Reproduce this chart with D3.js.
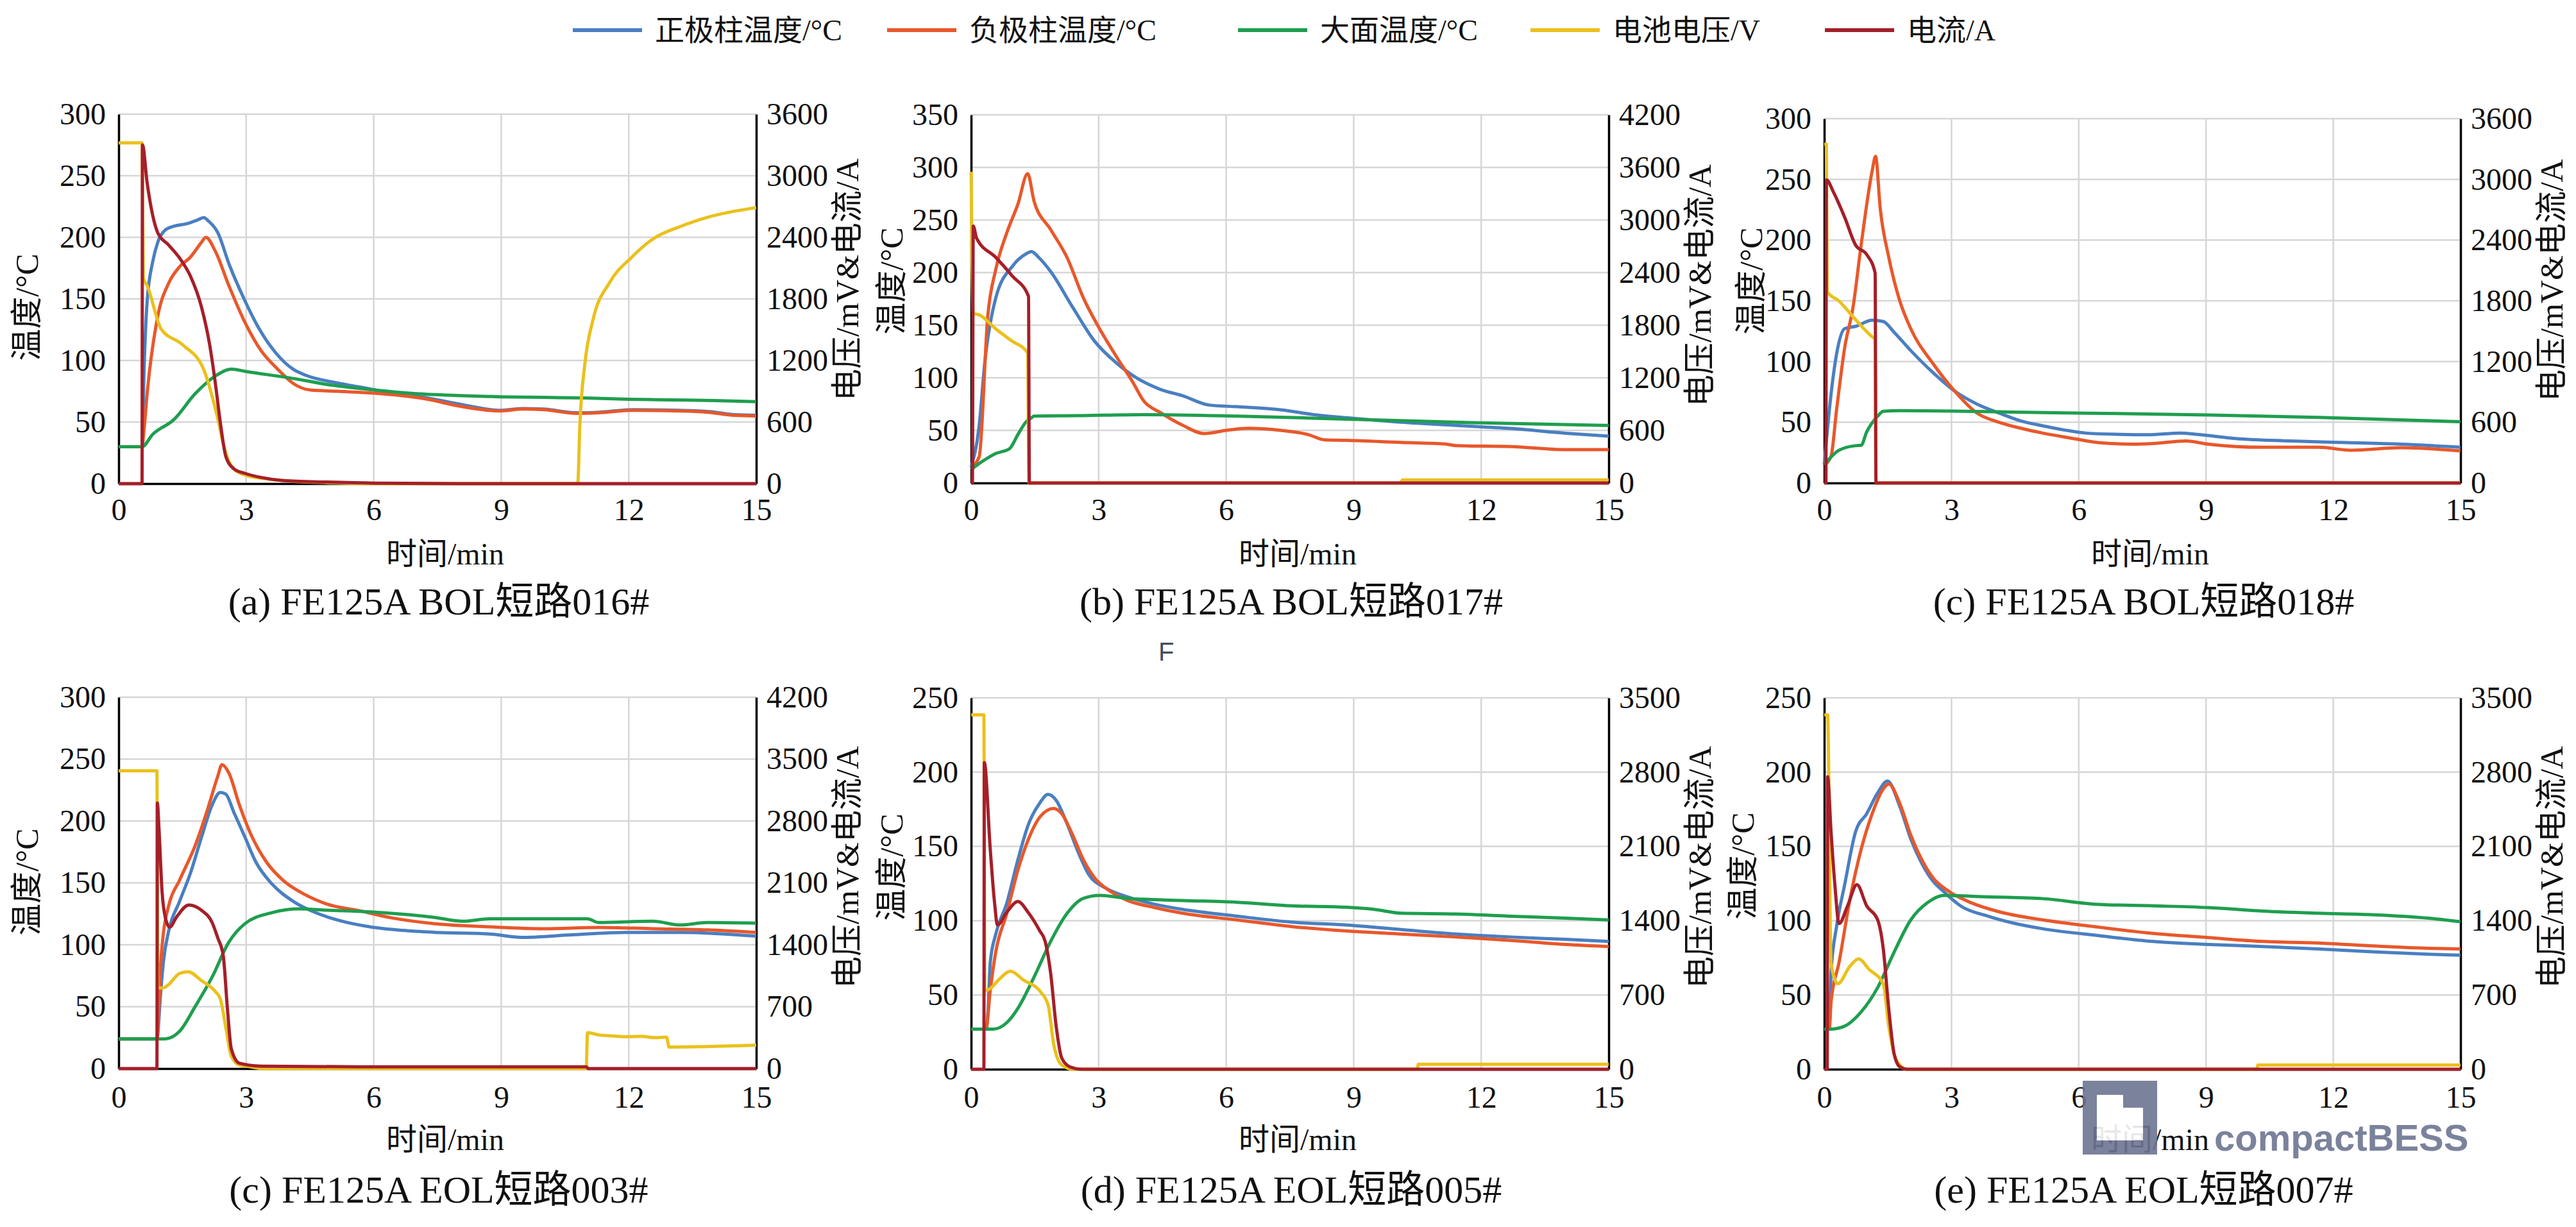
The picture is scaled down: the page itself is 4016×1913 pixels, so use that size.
<!DOCTYPE html>
<html><head><meta charset="utf-8">
<script src="https://cdn.jsdelivr.net/npm/d3@7"></script>
<style>body{margin:0;background:#fff}</style>
</head><body><svg id="c" width="4016" height="1913"></svg>
<script>
// ---------- DATA ----------
const seriesNames = ["正极柱温度/°C","负极柱温度/°C","大面温度/°C","电池电压/V","电流/A"];
const captions = ["(a) FE125A BOL短路016#","(b) FE125A BOL短路017#","(c) FE125A BOL短路018#",
                  "(c) FE125A EOL短路003#","(d) FE125A EOL短路005#","(e) FE125A EOL短路007#"];
const xTicks = [0,3,6,9,12,15];
const leftTicks300 = [0,50,100,150,200,250,300];
const leftTicks350 = [0,50,100,150,200,250,300,350];
const leftTicks250 = [0,50,100,150,200,250];
const rightTicks3600 = [0,600,1200,1800,2400,3000,3600];
const rightTicks4200a = [0,600,1200,1800,2400,3000,3600,4200];
const rightTicks4200b = [0,700,1400,2100,2800,3500,4200];
const rightTicks3500 = [0,700,1400,2100,2800,3500];

// (a) BOL 016#
const a_pos = [[0,30],[0.55,30],[0.6,95],[0.67,148],[0.8,180],[0.92,196],[1.1,206],[1.3,209],[1.6,211],[1.85,214],[2.0,216],[2.12,213],[2.33,204],[2.6,178],[2.95,150],[3.3,126],[3.7,106],[4.1,93],[4.4,88],[5.1,82],[5.9,77],[6.2,75],[7.2,70],[8.1,64],[9.0,59.5],[9.5,61],[10,60.5],[10.8,57.5],[11.3,58],[12.1,60],[13.2,59.5],[13.9,58.5],[14.5,56],[15,55.5]];
const a_neg = [[0,30],[0.55,30],[0.6,45],[0.67,73],[0.92,136],[1.18,163],[1.43,176],[1.69,184],[1.95,196],[2.05,200],[2.27,189],[2.59,161],[2.97,131],[3.35,108],[3.74,93],[4.12,81],[4.51,76],[5.15,75],[6.17,73],[7.19,69],[8.09,62.5],[8.98,59],[9.5,60.5],[10.01,60],[10.78,57],[11.29,57.5],[12.06,59.5],[13.21,59],[13.85,58],[14.49,55.5],[15,55]];
const a_face = [[0,30],[0.55,30],[0.8,40],[1.3,52],[1.8,73],[2.3,88],[2.65,93],[3.0,91],[4.0,86],[5.0,80],[6.0,76],[7.0,73],[8.0,71.5],[9.0,70.5],[10,70],[11,69.5],[12,68.5],[13,68],[14,67.5],[15,66.5]];
const a_volt = [[0,3320],[0.55,3320],[0.58,2000],[0.67,1930],[1.0,1506],[1.5,1355],[2.0,1113],[2.3,690],[2.5,327],[2.7,145],[3.0,80],[3.5,45],[4.0,25],[5,8],[6,0],[10.8,0],[10.85,569],[10.97,1174],[11.16,1597],[11.55,1960],[12.06,2202],[12.57,2384],[13.21,2505],[13.85,2595],[15,2690]];
const a_curr = [[0,0],[0.55,0],[0.56,3300],[0.67,2930],[0.92,2444],[1.18,2323],[1.43,2200],[1.69,2020],[1.95,1718],[2.14,1355],[2.27,992],[2.4,569],[2.52,266],[2.71,145],[2.97,100],[3.35,60],[3.87,30],[4.9,15],[6,5],[8,0],[15,0]];

// (b) BOL 017#
const b_pos = [[0,15],[0.19,55],[0.32,114],[0.58,176],[0.97,206],[1.3,218],[1.42,220],[1.6,214],[1.87,201],[2.39,167],[2.9,135],[3.42,114],[3.93,99],[4.45,89],[4.97,83],[5.61,74],[6.26,72.5],[7.29,69.5],[8.06,65],[8.84,62],[10.12,57.7],[11.41,54.7],[12.7,51.8],[13.99,47.3],[15,44.5]];
const b_neg = [[0,15],[0.19,25],[0.39,158],[0.58,203],[0.84,238],[1.1,265],[1.33,294],[1.48,268],[1.87,241],[2.26,214],[2.64,176],[3.03,146],[3.42,120],[3.8,96],[4.06,78],[4.45,67],[4.97,55],[5.48,47],[6.0,50],[6.51,52],[7.29,50],[7.93,46],[8.32,41],[8.84,40.5],[10.12,38.5],[11.16,37],[11.41,35.5],[12.7,34.6],[13.99,31.7],[15,31.7]];
const b_face = [[0,13],[0.32,22],[0.58,28],[0.9,32.5],[1.1,46],[1.29,58],[1.42,62],[1.48,63.6],[2.5,64],[4.06,65],[6.26,63.6],[8.84,60.7],[11.41,57.7],[15,54.7]];
const b_volt = [[0,3550],[0.05,1935],[0.19,1918],[0.58,1758],[0.97,1616],[1.29,1509],[1.33,1480],[1.36,0],[10.1,0],[10.15,35],[15,35]];
const b_curr = [[0,0],[0.03,0],[0.05,2930],[0.13,2790],[0.58,2574],[0.97,2361],[1.35,2130],[1.37,0],[15,0]];

// (c) BOL 018#
const c1_pos = [[0,15],[0.16,73],[0.29,106],[0.48,127],[0.74,129],[1.13,134],[1.39,133],[1.65,124],[2.04,109],[2.56,91],[3.08,75.5],[3.6,65],[4.12,57.6],[4.64,51],[5.16,47],[5.68,43.5],[6.19,41],[6.97,40],[7.62,39.7],[8.4,41],[8.79,40],[9.7,36.6],[11.0,34.6],[12.3,33.3],[13.6,32],[15,29.4]];
const c1_neg = [[0,15],[0.16,22],[0.29,60],[0.48,111],[0.68,145],[0.87,196],[1.13,257],[1.21,269],[1.32,226],[1.52,186],[1.78,150],[2.04,127],[2.56,98.5],[3.08,75.5],[3.6,57.6],[4.12,50],[4.64,45],[5.16,41],[5.81,37],[6.45,33.3],[7.23,32],[7.75,32.5],[8.53,34.6],[9.05,32],[10.35,29.4],[11.65,29.4],[12.42,27],[13.6,29],[15,26.4]];
const c1_face = [[0,15],[0.35,27],[0.74,30.7],[0.87,31],[1.0,42],[1.26,55],[1.39,59],[1.78,59.6],[5.16,58],[9.05,56],[11.65,54],[15,50.4]];
const c1_volt = [[0,3348],[0.05,3348],[0.07,1889],[0.35,1797],[0.74,1613],[1.13,1444],[1.2,1420],[1.22,0],[15,0]];
const c1_curr = [[0,0],[0.04,0],[0.05,2995],[0.22,2872],[0.48,2627],[0.74,2350],[1.0,2258],[1.2,2074],[1.22,0],[15,0]];

// (c) EOL 003#
const c2_pos = [[0,24],[0.9,24],[0.99,62],[1.05,85.5],[1.18,111.6],[1.43,134.8],[1.69,158],[1.95,187],[2.2,213],[2.39,223],[2.52,221.7],[2.71,207],[2.97,187],[3.23,166.7],[3.61,149],[4.12,134.8],[4.63,126],[5.15,120],[5.91,114.5],[6.68,111.6],[7.45,110],[8.73,108.7],[9.5,106],[10.65,108],[11.93,110],[13.21,110],[15,107]];
const c2_neg = [[0,24],[0.9,24],[0.99,85.5],[1.05,108.7],[1.18,132],[1.43,152],[1.81,181],[2.07,207],[2.33,236],[2.43,245.5],[2.59,239],[2.84,213],[3.1,190],[3.48,166.7],[3.87,152],[4.38,140.6],[4.89,133],[5.66,127.5],[6.43,121.7],[7.45,117],[8.73,114.5],[10.01,113],[11.29,114],[12.57,113],[13.85,112],[15,110]];
const c2_face = [[0,24],[1.1,24],[1.43,30],[1.81,50.7],[2.2,74],[2.59,102],[2.97,117],[3.61,126],[4.25,129],[4.89,128],[6.17,126],[7.45,122],[8.09,119],[8.73,121],[10.01,121],[11.03,121],[11.29,118],[12.57,119],[13.21,116],[13.85,118],[15,117.5]];
const c2_volt = [[0,3368],[0.9,3368],[0.92,913],[1.05,913],[1.18,953],[1.43,1075],[1.63,1096],[1.95,994],[2.27,873],[2.39,791],[2.52,467],[2.65,142],[2.84,40],[3.1,20],[3.4,0],[11.0,0],[11.03,406],[11.3,380],[11.6,370],[12.0,360],[12.3,365],[12.6,350],[12.89,355],[12.95,243],[15,264]];
const c2_curr = [[0,0],[0.9,0],[0.91,3003],[0.95,2699],[1.02,2009],[1.11,1684],[1.2,1600],[1.37,1720],[1.65,1850],[1.95,1790],[2.2,1650],[2.33,1480],[2.46,1278],[2.56,670],[2.65,223],[2.84,61],[3.35,28],[6,20],[11.0,20],[11.05,0],[15,0]];

// (d) EOL 005#
const d_pos = [[0,27],[0.35,27],[0.4,40],[0.45,72],[0.58,91],[0.84,112],[1.1,141],[1.35,165],[1.61,179],[1.81,185],[2.0,181],[2.26,165],[2.52,146],[2.77,131],[3.16,122],[3.68,116],[4.32,111],[4.97,107.6],[6.26,103],[7.55,99],[8.84,97],[10.12,94],[11.41,91],[12.7,89],[13.99,87.4],[15,86]];
const d_neg = [[0,27],[0.35,27],[0.45,53],[0.58,79],[0.84,105],[1.1,134],[1.35,155],[1.61,169.5],[1.94,175.5],[2.13,172],[2.39,157.6],[2.64,141],[2.9,129],[3.29,119.5],[3.68,113.6],[4.32,108.8],[4.97,105],[6.26,100.5],[7.55,96],[8.84,93],[10.12,91],[11.41,89],[12.7,86.7],[13.99,84],[15,82.6]];
const d_face = [[0,27],[0.52,27],[0.84,31.4],[1.1,41],[1.48,62],[1.87,86],[2.26,105],[2.64,115],[3.03,117],[3.68,115],[4.97,113.6],[6.26,112.4],[7.55,110],[8.84,109],[9.48,107.6],[10.12,105],[11.41,104.5],[12.7,103],[13.99,101.7],[15,100.5]];
const d_volt = [[0,3340],[0.3,3340],[0.32,740],[0.45,760],[0.64,840],[0.93,924],[1.23,840],[1.61,740],[1.81,607],[1.94,240],[2.13,40],[2.39,0],[10.5,0],[10.52,47],[15,47]];
const d_curr = [[0,0],[0.3,0],[0.31,2890],[0.45,2073],[0.55,1573],[0.62,1360],[0.84,1480],[1.1,1580],[1.35,1473],[1.61,1307],[1.74,1207],[1.87,907],[2.0,407],[2.13,107],[2.32,23],[2.6,0],[15,0]];

// (e) EOL 007#
const e_pos = [[0,27],[0.12,27],[0.16,65],[0.29,96],[0.48,124],[0.74,160],[1.0,172],[1.26,186],[1.49,194],[1.78,177],[2.04,155],[2.3,138.6],[2.56,126.7],[2.82,119.5],[3.21,110],[3.86,103],[4.51,98],[5.16,94.5],[6.45,90],[7.75,86],[9.05,84],[10.35,82.6],[11.65,81],[12.95,79],[14.25,77.4],[15,76.7]];
const e_neg = [[0,27],[0.12,27],[0.16,45],[0.35,72],[0.61,115],[0.87,148],[1.13,172],[1.39,188.6],[1.52,192],[1.78,179],[2.04,157.6],[2.3,141],[2.56,129],[2.95,119.5],[3.47,112],[4.12,106],[5.16,100.5],[6.45,95.7],[7.75,91.4],[9.05,88.6],[10.35,86],[11.65,85],[12.95,83],[14.25,81.4],[15,81]];
const e_face = [[0,27],[0.15,27],[0.48,29],[0.87,38.6],[1.26,55],[1.65,79],[2.04,100.5],[2.43,112],[2.82,117],[3.86,116],[5.16,114.8],[6.45,111],[7.75,110],[9.05,108.8],[10.35,106.4],[11.65,105],[12.95,104],[14.25,101.7],[15,99.3]];
const e_volt = [[0,3340],[0.08,3340],[0.16,1000],[0.32,806],[0.61,973],[0.81,1040],[1.06,940],[1.39,806],[1.52,407],[1.65,140],[1.78,40],[1.95,0],[10.2,0],[10.22,40],[15,40]];
const e_curr = [[0,0],[0.07,0],[0.08,2757],[0.16,2240],[0.25,1740],[0.35,1373],[0.55,1540],[0.77,1740],[1.0,1540],[1.26,1407],[1.39,1140],[1.52,573],[1.65,140],[1.78,23],[1.95,0],[15,0]];

// ---------- LAYOUT / STYLE ----------
const W = 4016, H = 1913;
const FONT = '"Liberation Serif","Times New Roman","Noto Sans CJK SC",serif';
const colors = ['#4a7fc1','#e8582b','#1f9e4f','#eac11c','#a51f29'];
const panels = [
  {L:185, R:1179, T:178, B:754, lt:leftTicks300, rt:rightTicks3600, s:[a_pos,a_neg,a_face,a_volt,a_curr], cap:captions[0], ltx:42, lty:479, rty:436, xb:880, capb:958, tb:811},
  {L:1514,R:2508, T:179, B:753, lt:leftTicks350, rt:rightTicks4200a, s:[b_pos,b_neg,b_face,b_volt,b_curr], cap:captions[1], ltx:1390, lty:438, rty:445, xb:880, capb:958, tb:811},
  {L:2844,R:3836, T:185, B:753, lt:leftTicks300, rt:rightTicks3600, s:[c1_pos,c1_neg,c1_face,c1_volt,c1_curr], cap:captions[2], ltx:2730, lty:438, rty:437, xb:880, capb:958, tb:811},
  {L:185, R:1179, T:1087,B:1666,lt:leftTicks300, rt:rightTicks4200b, s:[c2_pos,c2_neg,c2_face,c2_volt,c2_curr], cap:captions[3], ltx:42, lty:1375, rty:1352, xb:1793, capb:1875, tb:1727},
  {L:1514,R:2508, T:1088,B:1667,lt:leftTicks250, rt:rightTicks3500, s:[d_pos,d_neg,d_face,d_volt,d_curr], cap:captions[4], ltx:1390, lty:1352, rty:1352, xb:1793, capb:1875, tb:1727},
  {L:2844,R:3836, T:1088,B:1667,lt:leftTicks250, rt:rightTicks3500, s:[e_pos,e_neg,e_face,e_volt,e_curr], cap:captions[5], ltx:2717, lty:1350, rty:1352, xb:1793, capb:1875, tb:1727}
];

const svg = d3.select('#c');
svg.append('rect').attr('width',W).attr('height',H).attr('fill','#fff');
const fmt = d3.format('d');

panels.forEach((p,i)=>{
  const g = svg.append('g');
  const x = d3.scaleLinear().domain([0,15]).range([p.L,p.R]);
  const yl = d3.scaleLinear().domain([0,d3.max(p.lt)]).range([p.B,p.T]);
  const yr = d3.scaleLinear().domain([0,d3.max(p.rt)]).range([p.B,p.T]);

  // grid
  g.append('g').selectAll('line').data(p.lt.filter(v=>v>0)).join('line')
    .attr('x1',p.L).attr('x2',p.R).attr('y1',d=>yl(d)).attr('y2',d=>yl(d))
    .attr('stroke','#d6d6d6').attr('stroke-width',2.5);
  g.append('g').selectAll('line').data(xTicks.filter(v=>v>0&&v<15)).join('line')
    .attr('y1',p.T).attr('y2',p.B).attr('x1',d=>x(d)).attr('x2',d=>x(d))
    .attr('stroke','#d6d6d6').attr('stroke-width',2.5);

  // axes
  const axL = g.append('g').attr('transform',`translate(${p.L},0)`)
    .call(d3.axisLeft(yl).tickValues(p.lt).tickFormat(fmt).tickSize(0).tickPadding(20));
  const axR = g.append('g').attr('transform',`translate(${p.R},0)`)
    .call(d3.axisRight(yr).tickValues(p.rt).tickFormat(fmt).tickSize(0).tickPadding(16));
  const axB = g.append('g').attr('transform',`translate(0,${p.B})`)
    .call(d3.axisBottom(x).tickValues(xTicks).tickFormat(fmt).tickSize(0).tickPadding(0));
  [axL,axR,axB].forEach(a=>{
    a.select('.domain').attr('stroke','#000').attr('stroke-width',3.5);
    a.selectAll('text').attr('font-family',FONT).attr('font-size',48).attr('fill','#111');
  });
  axB.selectAll('text').attr('dy',null).attr('y',p.tb-p.B).attr('dominant-baseline','alphabetic');

  // series
  const lines = g.append('g');
  p.s.forEach((ser,k)=>{
    const yy = k<3 ? yl : yr;
    const line = d3.line().x(d=>x(d[0])).y(d=>yy(d[1])).curve(d3.curveMonotoneX);
    lines.append('path').datum(ser).attr('d',line).attr('fill','none')
      .attr('stroke',colors[k]).attr('stroke-width',5).attr('stroke-linejoin','round');
  });

  // axis titles
  g.append('text').attr('transform',`translate(${p.ltx},${p.lty}) rotate(-90)`)
    .attr('text-anchor','middle').attr('dominant-baseline','central')
    .attr('font-family',FONT).attr('font-size',50).attr('fill','#111').text('温度/°C');
  g.append('text').attr('transform',`translate(${p.R+142},${p.rty}) rotate(-90)`)
    .attr('text-anchor','middle').attr('dominant-baseline','central')
    .attr('font-family',FONT).attr('font-size',50).attr('fill','#111').text('电压/mV&电流/A');
  g.append('text').attr('x',(p.L+p.R)/2+12).attr('y',p.xb).attr('text-anchor','middle')
    .attr('font-family',FONT).attr('font-size',48).attr('fill','#111').text('时间/min');
  g.append('text').attr('x',(p.L+p.R)/2+2).attr('y',p.capb).attr('text-anchor','middle')
    .attr('font-family',FONT).attr('font-size',60).attr('fill','#111').text(p.cap);
});

// legend
const legX = [893,1383,1930,2386,2845];
const leg = svg.append('g');
seriesNames.forEach((n,k)=>{
  leg.append('line').attr('x1',legX[k]).attr('x2',legX[k]+108).attr('y1',47).attr('y2',47)
    .attr('stroke',colors[k]).attr('stroke-width',6);
  leg.append('text').attr('x',legX[k]+128).attr('y',47).attr('dominant-baseline','central')
    .attr('font-family',FONT).attr('font-size',46).attr('fill','#111').text(n);
});

// stray mark and logo
svg.append('text').attr('x',1806).attr('y',1030).attr('font-family','"Liberation Sans",sans-serif')
  .attr('font-size',40).attr('fill','#3f4f5f').text('F');
const logo = svg.append('g').attr('opacity',0.9);
logo.append('rect').attr('x',3247).attr('y',1685).attr('width',116).attr('height',115).attr('fill','#6d7592');
logo.append('path').attr('d','M3269,1707H3310V1727H3341V1778H3269Z').attr('fill','#fff');
logo.append('text').attr('x',3452).attr('y',1794).attr('font-family','"Liberation Sans",Arial,sans-serif')
  .attr('font-weight','bold').attr('font-size',58).attr('fill','#6d7592').text('compactBESS');
</script></body></html>
